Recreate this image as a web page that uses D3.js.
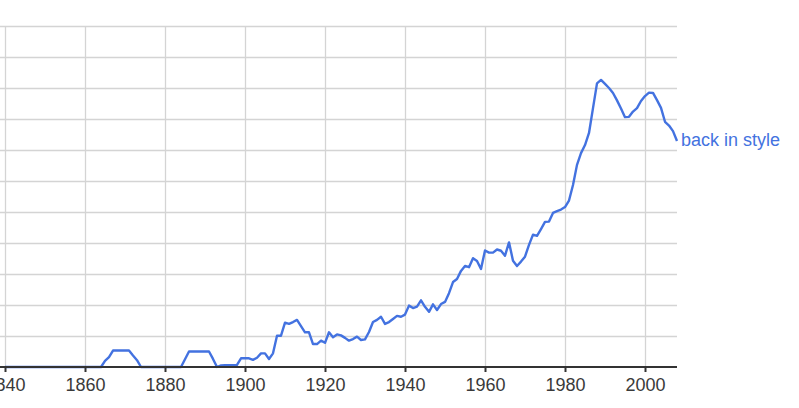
<!DOCTYPE html>
<html>
<head>
<meta charset="utf-8">
<script src="https://cdn.jsdelivr.net/npm/d3@7"></script>
<style>
body { margin: 0; background: #fff; }
svg { display: block; }
</style>
</head>
<body>
<svg></svg>
<script>
// years 1840..2008
var years = d3.range(1840, 2009);

// "back in style" (one per year)
var values = [
  0,0,0,0,0,0,0,0,0,0, 0,0,0,0,0,0,0,0,0,0, 0,0,0,0,
  0,0.2,0.32,0.53,0.53,0.53,0.53,0.53,0.37,0.22,0,
  0,0,0,0,0,0,0,0,0,
  0,0.25,0.5,0.5,0.5,0.5,0.5,0.5,0.26,0,0.05,0.06,0.06,0.06,0.07,0.28,
  0.28,0.28,0.23,0.3,0.44,0.44,0.26,0.44,1.01,1.01,
  1.43,1.39,1.45,1.52,1.32,1.12,1.12,0.74,0.74,0.85,
  0.78,1.12,0.96,1.05,1.02,0.94,0.85,0.9,0.98,0.87,
  0.89,1.13,1.45,1.52,1.62,1.39,1.45,1.55,1.65,1.62,
  1.69,1.98,1.9,1.95,2.15,1.94,1.78,2.02,1.84,2.03,
  2.1,2.38,2.74,2.84,3.1,3.26,3.22,3.51,3.42,3.16,
  3.76,3.69,3.69,3.79,3.75,3.59,4.02,3.43,3.26,3.4,
  3.56,3.94,4.27,4.23,4.45,4.68,4.69,4.97,5.03,5.08,
  5.16,5.37,5.87,6.52,6.9,7.16,7.55,8.35,9.15,9.26,
  9.13,9.0,8.84,8.6,8.34,8.06,8.07,8.24,8.35,8.58,
  8.74,8.85,8.84,8.61,8.36,7.91,7.79,7.61,7.29
];

var seriesName = 'back in style';
var xTicks = [1840, 1860, 1880, 1900, 1920, 1940, 1960, 1980, 2000];
var yTicks = d3.range(1, 12);

var svgWidth = 799, svgHeight = 408;
// plot box (window.top is taken, so prefix these)
var plotLeft = 0, plotRight = 677, plotTop = 26, plotBottom = 367;
var lineColor = '#4372e0';

var svg = d3.select('svg')
.attr('width', svgWidth)
.attr('height', svgHeight);

var xScale = d3.scaleLinear()
.domain([1838.75, 2008])
.range([plotLeft, plotRight]);

var yScale = d3.scaleLinear()
.domain([0, 11])
.range([plotBottom, plotTop]);

// horizontal grid
svg.append('g')
.selectAll('line')
.data(yTicks)
.enter()
.append('line')
.attr('x1', plotLeft)
.attr('x2', plotRight)
.attr('y1', function(d){ return Math.round(yScale(d)) + 0.5; })
.attr('y2', function(d){ return Math.round(yScale(d)) + 0.5; })
.attr('stroke', '#d4d4d4')
.attr('stroke-width', 1.3);

// vertical grid
svg.append('g')
.selectAll('line')
.data(xTicks)
.enter()
.append('line')
.attr('x1', function(d){ return xScale(d) + 0.5; })
.attr('x2', function(d){ return xScale(d) + 0.5; })
.attr('y1', plotTop)
.attr('y2', plotBottom)
.attr('stroke', '#d4d4d4')
.attr('stroke-width', 1.3);

// the line
var line = d3.line()
.x(function(d, i){ return xScale(years[i]); })
.y(function(d){ return yScale(d); });

svg.append('path')
.datum(values)
.attr('d', line)
.attr('fill', 'none')
.attr('stroke', lineColor)
.attr('stroke-width', 2.4)
.attr('stroke-linejoin', 'round');

// x axis
var x_axis = d3.axisBottom()
.scale(xScale)
.tickValues(xTicks)
.tickFormat(d3.format('d'))
.tickSize(5)
.tickPadding(6);

var gx = svg.append('g')
.attr('transform', 'translate(0, ' + plotBottom + ')')
.call(x_axis);

gx.select('.domain')
.attr('d', 'M' + plotLeft + ',0H' + plotRight)
.attr('stroke', '#333')
.attr('stroke-width', 2);

gx.selectAll('.tick line')
.attr('stroke', '#333')
.attr('stroke-width', 2);

gx.selectAll('.tick text')
.attr('fill', '#3a3a3a')
.style('font-family', 'Arial, "Liberation Sans", sans-serif')
.style('font-size', '18px');

// series label at the end of the line
svg.append('text')
.attr('x', xScale(2008) + 4)
.attr('y', yScale(values[values.length - 1]) - 1)
.attr('dy', '0.35em')
.attr('fill', lineColor)
.style('font-family', 'Arial, "Liberation Sans", sans-serif')
.style('font-size', '18px')
.text(seriesName);
</script>
</body>
</html>
